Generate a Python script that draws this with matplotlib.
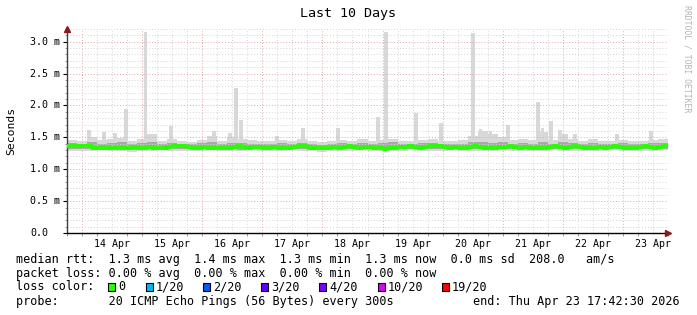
import numpy as np
import matplotlib
matplotlib.use("Agg")
import matplotlib.pyplot as plt
from matplotlib.patches import Rectangle
from matplotlib.transforms import blended_transform_factory

# time axis: hours since Apr 13 18:00, 10 days shown
hours_total = 240
day_labels = ["14 Apr", "15 Apr", "16 Apr", "17 Apr", "18 Apr",
              "19 Apr", "20 Apr", "21 Apr", "22 Apr", "23 Apr"]

# median rtt in ms, one value per 2 hours
median = [
    1.37, 1.37, 1.36, 1.37, 1.36, 1.34, 1.34, 1.33, 1.34, 1.33,
    1.33, 1.34, 1.34, 1.35, 1.34, 1.34, 1.35, 1.34, 1.33, 1.34,
    1.35, 1.36, 1.37, 1.36, 1.35, 1.34, 1.34, 1.35, 1.34, 1.33,
    1.33, 1.34, 1.34, 1.35, 1.36, 1.35, 1.34, 1.35, 1.35, 1.34,
    1.34, 1.35, 1.34, 1.33, 1.34, 1.35, 1.36, 1.36, 1.35, 1.34,
    1.34, 1.33, 1.34, 1.35, 1.34, 1.35, 1.36, 1.35, 1.34, 1.35,
    1.35, 1.34, 1.33, 1.32, 1.33, 1.34, 1.35, 1.35, 1.36, 1.35,
    1.34, 1.35, 1.36, 1.37, 1.36, 1.35, 1.34, 1.35, 1.34, 1.34,
    1.35, 1.36, 1.35, 1.34, 1.33, 1.34, 1.35, 1.35, 1.36, 1.35,
    1.34, 1.35, 1.34, 1.33, 1.34, 1.34, 1.35, 1.36, 1.35, 1.34,
    1.35, 1.36, 1.35, 1.34, 1.33, 1.34, 1.35, 1.34, 1.35, 1.36,
    1.35, 1.34, 1.33, 1.34, 1.35, 1.36, 1.35, 1.34, 1.35, 1.36,
]

# smoke envelope in ms, one value per 4 hours
smoke_hi = [
    1.46, 1.44, 1.50, 1.46, 1.47, 1.49, 1.45, 1.48, 1.56, 1.45,
    1.47, 1.44, 1.43, 1.46, 1.52, 1.45, 1.50, 1.47, 1.46, 1.44,
    1.44, 1.46, 1.45, 1.47, 1.44, 1.43, 1.45, 1.46, 1.44, 1.47,
    1.45, 1.46, 1.48, 1.45, 1.44, 1.46, 1.47, 1.45, 1.44, 1.46,
    1.52, 1.60, 1.55, 1.50, 1.46, 1.47, 1.46, 1.58, 1.46, 1.55,
    1.48, 1.45, 1.47, 1.44, 1.45, 1.46, 1.44, 1.45, 1.46, 1.47,
]
smoke_lo = [
    1.29, 1.28, 1.29, 1.30, 1.28, 1.29, 1.27, 1.28, 1.29, 1.30,
    1.29, 1.28, 1.29, 1.29, 1.30, 1.28, 1.29, 1.28, 1.30, 1.29,
    1.28, 1.29, 1.30, 1.29, 1.28, 1.27, 1.28, 1.29, 1.29, 1.30,
    1.29, 1.28, 1.29, 1.28, 1.30, 1.29, 1.28, 1.29, 1.30, 1.29,
    1.28, 1.29, 1.29, 1.30, 1.28, 1.29, 1.28, 1.29, 1.30, 1.29,
    1.28, 1.29, 1.29, 1.28, 1.30, 1.29, 1.28, 1.29, 1.29, 1.30,
]
inner_hi = [
    1.41, 1.40, 1.42, 1.40, 1.41, 1.42, 1.40, 1.41, 1.42, 1.39,
    1.41, 1.40, 1.39, 1.41, 1.42, 1.40, 1.41, 1.41, 1.40, 1.40,
    1.39, 1.41, 1.40, 1.41, 1.39, 1.38, 1.40, 1.41, 1.39, 1.41,
    1.40, 1.41, 1.42, 1.40, 1.39, 1.41, 1.41, 1.40, 1.39, 1.40,
    1.42, 1.43, 1.41, 1.42, 1.40, 1.41, 1.40, 1.42, 1.40, 1.42,
    1.41, 1.40, 1.41, 1.39, 1.40, 1.41, 1.39, 1.40, 1.41, 1.41,
]
inner_lo = [
    1.32, 1.31, 1.31, 1.32, 1.31, 1.31, 1.30, 1.31, 1.31, 1.32,
    1.31, 1.31, 1.32, 1.31, 1.32, 1.31, 1.31, 1.30, 1.32, 1.31,
    1.31, 1.31, 1.32, 1.31, 1.30, 1.30, 1.31, 1.31, 1.31, 1.32,
    1.31, 1.31, 1.31, 1.31, 1.32, 1.31, 1.31, 1.31, 1.32, 1.31,
    1.31, 1.31, 1.31, 1.32, 1.31, 1.31, 1.31, 1.31, 1.32, 1.31,
    1.31, 1.31, 1.31, 1.31, 1.32, 1.31, 1.31, 1.31, 1.31, 1.32,
]

# isolated rtt spikes: hour offset, ms
spike_hours = [8.8, 14.8, 19.2, 23.6, 31.2, 33.1, 41.5, 58.7, 65.1, 67.5,
               69.5, 83.9, 94.2, 108.2, 124.2, 127.4, 139.4, 149.4, 162.1,
               165.0, 169.0, 176.1, 188.1, 190.0, 193.3, 196.9, 202.9,
               219.6, 233.2]
spike_ms = [1.62, 1.58, 1.57, 1.95, 3.15, 1.56, 1.68, 1.60, 1.57, 2.27,
            1.78, 1.52, 1.65, 1.65, 1.82, 3.15, 1.88, 1.73, 3.14,
            1.63, 1.60, 1.70, 2.06, 1.65, 1.75, 1.62, 1.55,
            1.55, 1.60]

yticks = [0.0, 0.5, 1.0, 1.5, 2.0, 2.5, 3.0]
ytick_labels = ["0.0", "0.5 m", "1.0 m", "1.5 m", "2.0 m", "2.5 m", "3.0 m"]

loss_labels = ["0", "1/20", "2/20", "3/20", "4/20", "10/20", "19/20"]
loss_colors = ["#26ff00", "#00b8ff", "#0059ff", "#5e00ff", "#7e00ff",
               "#dd00ff", "#ff0000"]

mono = "DejaVu Sans Mono"
W, H = 697, 315

fig = plt.figure(figsize=(W / 100, H / 100), dpi=100)
fig.patch.set_facecolor("white")
ax = fig.add_axes([67 / W, 82 / H, 601 / W, 204 / H])
ax.set_xlim(0, hours_total)
ax.set_ylim(0, 3.2)

# smoke
t4 = np.arange(len(smoke_hi) + 1) * 4
ax.bar(spike_hours, np.array(spike_ms) - 1.30, bottom=1.30, width=1.3,
       color="#d8d8d8", linewidth=0, zorder=1)
ax.fill_between(t4, np.append(smoke_lo, smoke_lo[-1]),
                np.append(smoke_hi, smoke_hi[-1]), step="post",
                color="#d8d8d8", linewidth=0, zorder=1)
ax.fill_between(t4, np.append(inner_lo, inner_lo[-1]),
                np.append(inner_hi, inner_hi[-1]), step="post",
                color="#a8a8a8", linewidth=0, zorder=1)

# grid
dot = (0, (1, 2))
for v in np.arange(0.1, 3.21, 0.1):
    major = abs(v / 0.5 - round(v / 0.5)) < 1e-6
    ax.axhline(v, color="#e0a8a8" if major else "#d4d4d4", lw=0.7,
               linestyle=dot, zorder=2)
for h in range(6, hours_total + 1, 6):
    major = (h - 6) % 24 == 0
    ax.axvline(h, color="#e0a8a8" if major else "#d4d4d4", lw=0.7,
               linestyle=dot, zorder=2)

# median line
t2 = np.arange(len(median) + 1) * 2
ax.step(t2, np.append(median, median[-1]), where="post", color="#26ff00",
        lw=2.8, zorder=3)

# axes look
for s in ["top", "right"]:
    ax.spines[s].set_visible(False)
ax.spines["left"].set_color("#404040")
ax.spines["bottom"].set_color("black")
ax.spines["left"].set_linewidth(1.0)
ax.spines["bottom"].set_linewidth(1.0)
ax.plot([0], [1.0], marker="^", color="#8b1a1a", markersize=5,
        transform=ax.transAxes, clip_on=False, zorder=5)
ax.plot([1.0], [0], marker=">", color="#8b1a1a", markersize=5,
        transform=ax.transAxes, clip_on=False, zorder=5)

ax.set_xticks([18 + 24 * i for i in range(len(day_labels))])
ax.set_xticklabels(day_labels, fontfamily=mono, fontsize=7.2)
ax.tick_params(axis="x", which="major", length=0, pad=4)
ax.set_xticks(np.arange(0, hours_total + 1, 6), minor=True)
ax.tick_params(axis="x", which="minor", length=2, direction="out",
               color="#888888", width=0.6)
ax.set_yticks(yticks)
ax.set_yticklabels([])
ax.set_yticks(np.arange(0, 3.21, 0.1), minor=True)
ax.tick_params(axis="y", which="major", length=3, direction="out")
ax.tick_params(axis="y", which="minor", length=1.2, direction="out",
               color="#888888", width=0.6)

ytr = blended_transform_factory(fig.transFigure, ax.transData)
for v, lab in zip(yticks, ytick_labels):
    ax.text(30 / W, v, lab, transform=ytr, ha="left", va="center",
            fontfamily=mono, fontsize=7.2)

fig.text(11 / W, 1 - 131 / H, "Seconds", rotation=90, ha="center",
         va="center", fontfamily=mono, fontsize=8.2)
fig.text(348 / W, 1 - 14 / H, "Last 10 Days", ha="center", va="center",
         fontfamily=mono, fontsize=9.6)
fig.text(687 / W, 1 - 59 / H, "RRDTOOL / TOBI OETIKER", rotation=270,
         ha="center", va="center", fontfamily=mono, fontsize=5.9,
         color="#b4b4b4")

# legend
lsize = 8.5
fig.text(16 / W, 1 - 259 / H,
         "median rtt:  1.3 ms avg  1.4 ms max  1.3 ms min  1.3 ms now"
         "  0.0 ms sd  208.0   am/s",
         ha="left", va="center", fontfamily=mono, fontsize=lsize)
fig.text(16 / W, 1 - 273 / H,
         "packet loss: 0.00 % avg  0.00 % max  0.00 % min  0.00 % now",
         ha="left", va="center", fontfamily=mono, fontsize=lsize)
fig.text(16 / W, 1 - 287 / H, "loss color:", ha="left", va="center",
         fontfamily=mono, fontsize=lsize)
box_x = [108, 146, 203, 261, 319, 378, 442]
for bx, lab, col in zip(box_x, loss_labels, loss_colors):
    fig.patches.append(Rectangle((bx / W, 1 - 291 / H), 7 / W, 8 / H,
                                 transform=fig.transFigure, facecolor=col,
                                 edgecolor="black", lw=0.8))
    fig.text((bx + 10) / W, 1 - 287 / H, lab, ha="left", va="center",
             fontfamily=mono, fontsize=lsize)
fig.text(16 / W, 1 - 301 / H,
         "probe:       20 ICMP Echo Pings (56 Bytes) every 300s",
         ha="left", va="center", fontfamily=mono, fontsize=lsize)
fig.text(680 / W, 1 - 301 / H, "end: Thu Apr 23 17:42:30 2026",
         ha="right", va="center", fontfamily=mono, fontsize=lsize)

fig.savefig("out.png", dpi=100)
